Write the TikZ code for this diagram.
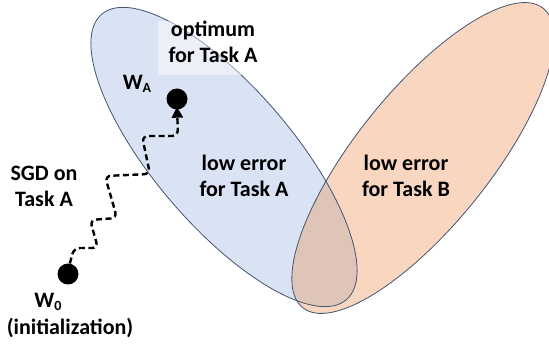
\documentclass[tikz,border=0pt]{standalone}
\usepackage{fontspec}
\setmainfont{Carlito}
\usetikzlibrary{arrows.meta}

\definecolor{regionA}{RGB}{218,227,243}
\definecolor{regionB}{RGB}{249,214,191}
\definecolor{regionAB}{RGB}{223,197,184}
\definecolor{rim}{RGB}{68,84,112}

\tikzset{
  lbl/.style={font=\fontsize{22}{26}\selectfont\bfseries, align=center, inner sep=0pt},
  dot/.style={circle, fill=black, minimum size=21pt, inner sep=0pt},
  sgd/.style={line width=2.4pt, dash pattern=on 6pt off 3.5pt, rounded corners=6pt,
              -{Triangle[length=11pt,width=11pt]}},
  rimline/.style={draw=rim, line width=0.8pt}
}

\newcommand{\ellA}{[shift={(224,157)}, rotate=-49.4] (0,0) ellipse [x radius=188, y radius=69]}
\newcommand{\ellB}{[shift={(423,158)}, rotate=51.2] (0,0) ellipse [x radius=192, y radius=67]}

\begin{document}
\begin{tikzpicture}[x=1pt, y=-1pt]
  \useasboundingbox (0,0) rectangle (549,344);

  % the two low-error regions and their overlap
  \fill[regionA] \ellA;
  \fill[regionB] \ellB;
  \begin{scope}
    \clip \ellA;
    \fill[regionAB] \ellB;
  \end{scope}
  \path[rimline] \ellA;
  \path[rimline] \ellB;

  % pale panel behind the optimum label
  \fill[white, opacity=0.45] (158,21) rectangle (262,75);

  % labels (base anchor = baseline of the last line)
  \node[lbl, anchor=base] (opt) at (213,63) {optimum\\for Task A};
  \node[lbl, anchor=base] (lowA) at (244,197) {low error\\for Task A};
  \node[lbl, anchor=base] (lowB) at (406,197) {low error\\for Task B};
  \node[lbl, anchor=base] (sgdlbl) at (44,207) {SGD on\\Task A};
  \node[lbl, anchor=base] (walbl) at (137,90) {W\raisebox{-0.22ex}{\fontsize{14}{14}\selectfont A}};
  \node[lbl, anchor=base] (w0lbl) at (48,308) {W\raisebox{-0.22ex}{\fontsize{14}{14}\selectfont 0}};
  \node[lbl, anchor=base] (init) at (70,335) {(initialization)};

  % parameter points
  \node[dot] (wa) at (177,99) {};
  \node[dot] (w0) at (68,274) {};

  % SGD trajectory
  \draw[sgd] (w0.80) -- (74,248) -- (98,248) -- (90,220) -- (117,218)
    -- (105,176) -- (150,174) -- (142,136) -- (178,136) -- ([yshift=3pt]wa.south);
\end{tikzpicture}
\end{document}
